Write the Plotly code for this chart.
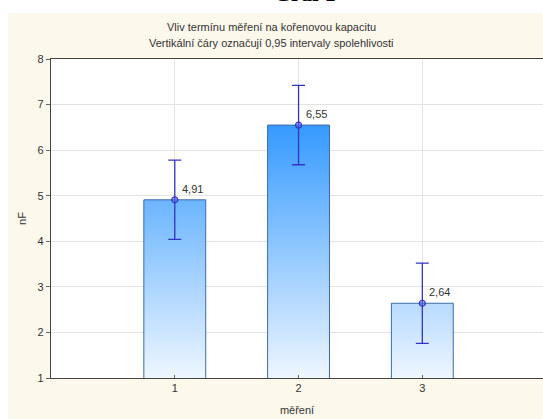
import plotly.graph_objects as go

categories = [1, 2, 3]
means = [4.91, 6.55, 2.64]
ci_half = [0.87, 0.87, 0.88]
labels = ["4,91", "6,55", "2,64"]
y_ticks = [1, 2, 3, 4, 5, 6, 7, 8]
x_ticks = [1, 2, 3]

BAR_W = 0.5
W, H = 543, 419
ML, MR, MT, MB = 51, 0, 59, 41
X_RANGE = [0, 3.975]
Y_RANGE = [1, 8]
BEIGE = "#fdf8ec"
TXT = "#333333"
EB = "#3434c4"

fig = go.Figure()

# gradient bars
for c, m in zip(categories, means):
    xs = [c - BAR_W / 2, c - BAR_W / 2, c + BAR_W / 2, c + BAR_W / 2, c - BAR_W / 2]
    ys = [0, m, m, 0, 0]
    fig.add_trace(go.Scatter(
        x=xs, y=ys, mode="lines", fill="toself",
        line=dict(color="#3d6aa8", width=1),
        fillgradient=dict(type="vertical",
                          colorscale=[[0, "#eef6ff"], [1, "#3399ff"]],
                          start=1, stop=6.6),
        hoverinfo="skip", showlegend=False,
    ))

# means with confidence intervals
fig.add_trace(go.Scatter(
    x=categories, y=means, mode="markers",
    marker=dict(symbol="circle", size=6, color="rgba(90,110,235,0.55)",
                line=dict(color=EB, width=1.2)),
    error_y=dict(type="data", array=ci_half, color=EB, thickness=1.3, width=6.5),
    showlegend=False,
))

for c, m, lab in zip(categories, means, labels):
    fig.add_annotation(x=c, y=m, text=lab, showarrow=False,
                       xanchor="left", yanchor="bottom", xshift=5, yshift=3,
                       font=dict(family="Arial, Liberation Sans", size=11, color=TXT))

# beige panel behind everything (paper coords extend past plot area)
pw = W - ML - MR
ph = H - MT - MB
fig.add_shape(type="rect", xref="paper", yref="paper", layer="below",
              x0=(8 - ML) / pw, x1=(W - ML) / pw + 0.01,
              y0=-(MB + 5) / ph, y1=1 + (MT - 13) / ph,
              fillcolor=BEIGE, line=dict(width=0))
fig.add_shape(type="rect", xref="paper", yref="paper", layer="below",
              x0=0, x1=1.02, y0=0, y1=1, fillcolor="white", line=dict(width=0))

# titles
fig.add_annotation(xref="paper", yref="paper", x=(271.5 - ML) / pw, y=1 + (MT - 27) / ph,
                   text="Vliv termínu měření na kořenovou kapacitu", showarrow=False,
                   xanchor="center", yanchor="middle",
                   font=dict(family="Arial, Liberation Sans", size=11, color=TXT))
fig.add_annotation(xref="paper", yref="paper", x=(271.5 - ML) / pw, y=1 + (MT - 43) / ph,
                   text="Vertikální čáry označují 0,95 intervaly spolehlivosti", showarrow=False,
                   xanchor="center", yanchor="middle",
                   font=dict(family="Arial, Liberation Sans", size=11, color=TXT))
fig.add_annotation(xref="paper", yref="paper", x=(305 - ML) / pw, y=1 + (MT - 8) / ph,
                   text="<b>Graf 1</b>", showarrow=False,
                   xanchor="center", yanchor="bottom",
                   font=dict(family="Liberation Serif, Times New Roman", size=22, color="black"))

fig.update_layout(
    width=W, height=H,
    margin=dict(l=ML, r=MR, t=MT, b=MB, pad=0),
    paper_bgcolor="white", plot_bgcolor="rgba(0,0,0,0)",
    font=dict(family="Arial, Liberation Sans", size=11, color=TXT),
    xaxis=dict(range=X_RANGE, tickvals=x_ticks, ticktext=[str(t) for t in x_ticks],
               showgrid=True, gridcolor="#e4e4e4", gridwidth=1,
               showline=True, linecolor="#444444", linewidth=1.2, mirror=True,
               ticks="inside", ticklen=3, tickcolor="#666666", zeroline=False,
               title=dict(text="měření", standoff=13, font=dict(size=11, color=TXT))),
    yaxis=dict(range=Y_RANGE, tickvals=y_ticks,
               showgrid=True, gridcolor="#e4e4e4", gridwidth=1,
               showline=True, linecolor="#444444", linewidth=1.2, mirror=False,
               ticks="outside", ticklen=4, tickcolor="#666666", zeroline=False,
               title=dict(text="nF", standoff=8, font=dict(size=11, color=TXT))),
)

fig.write_html(
    "out.html",
    config={"displayModeBar": False},
    post_script="document.body.style.margin='0';document.body.style.overflow='hidden';",
)
